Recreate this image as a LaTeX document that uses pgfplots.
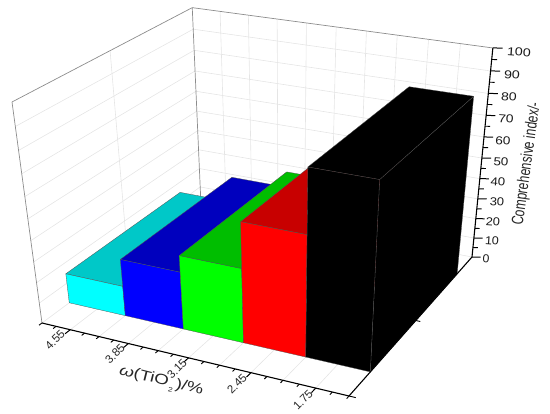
\documentclass[border=0pt]{standalone}
\usepackage{pgfplots}
\pgfplotsset{compat=1.18}
\usepackage{graphicx}
\usepackage{fontspec}
\setmainfont{Liberation Sans}
% world coordinates: o = omega(TiO2), d = depth 0..1, z = index 0..100; perspective view
\def\U{((4.9-\thisrow{o})/3.5)}
\def\V{\thisrow{d}}
\def\W{(\thisrow{z}/100)}
\def\DEN{(1-0.08667*\U+0.17218*\V-0.1095*\W)}
\pgfplotsset{/pgfplots/table/proj/.style={row sep=\\,
  x expr={(276.75*\U+193.61*\V-31.31*\W+42)/\DEN},
  y expr={(38.68*\U-82.70*\V-232.17*\W+323)/\DEN}}}
\newcommand\seg[7]{\addplot[#1,forget plot,mark=none] table[proj] {o d z\\ #2 #3 #4\\ #5 #6 #7\\};}
\newcommand\bbar[6]{%
 % omega left, omega right, value, front, top, side
 \addplot[fill=#6,draw=barline,line width=.3pt,forget plot,mark=none,line join=round] table[proj] {o d z\\ #2 .15 0\\ #2 .86 0\\ #2 .86 #3\\ #2 .15 #3\\ #2 .15 0\\};
 \addplot[fill=#5,draw=barline,line width=.3pt,forget plot,mark=none,line join=round] table[proj] {o d z\\ #1 .15 #3\\ #2 .15 #3\\ #2 .86 #3\\ #1 .86 #3\\ #1 .15 #3\\};
 \addplot[fill=#4,draw=barline,line width=.3pt,forget plot,mark=none,line join=round] table[proj] {o d z\\ #1 .15 0\\ #2 .15 0\\ #2 .15 #3\\ #1 .15 #3\\ #1 .15 0\\};
}
\definecolor{barline}{gray}{0.32}
\definecolor{gridc}{gray}{0.9}
\definecolor{framec}{gray}{0.55}
\definecolor{cyanF}{RGB}{0,255,255}
\definecolor{cyanT}{RGB}{0,200,200}
\definecolor{blueF}{RGB}{0,0,255}
\definecolor{blueT}{RGB}{0,0,190}
\definecolor{greenF}{RGB}{0,255,0}
\definecolor{greenT}{RGB}{0,190,0}
\definecolor{redF}{RGB}{255,0,0}
\definecolor{redT}{RGB}{200,0,0}
\begin{document}
\begin{tikzpicture}
\useasboundingbox (0,0) rectangle (550pt,414pt);
\begin{axis}[at={(0,0)},anchor=south west,scale only axis,width=550pt,height=414pt,
  xmin=0,xmax=550,ymin=0,ymax=414,y dir=reverse,hide axis,clip=false]
% grid on walls and floor
\pgfplotsinvokeforeach{10,20,30,40,50,60,70,80,90}{
  \seg{gridc,line width=.6pt}{4.9}{0}{#1}{4.9}{1}{#1}
  \seg{gridc,line width=.6pt}{4.9}{1}{#1}{1.4}{1}{#1}
}
\pgfplotsinvokeforeach{4.55,4.2,3.85,3.5,3.15,2.8,2.45,2.1,1.75}{
  \seg{gridc,line width=.6pt}{#1}{1}{0}{#1}{1}{100}
  \seg{gridc,line width=.6pt}{#1}{0}{0}{#1}{1}{0}
}
\seg{gridc,line width=.6pt}{4.9}{.5}{0}{4.9}{.5}{100}
\seg{gridc,line width=.6pt}{4.9}{.5}{0}{1.4}{.5}{0}
\seg{gridc,line width=.6pt}{4.9}{0}{0}{4.9}{1}{0}
\seg{gridc,line width=.6pt}{4.9}{1}{0}{1.4}{1}{0}
% frame
\seg{framec,line width=.7pt}{4.9}{0}{0}{4.9}{0}{100}
\seg{framec,line width=.7pt}{4.9}{0}{100}{4.9}{1}{100}
\seg{framec,line width=.7pt}{4.9}{1}{0}{4.9}{1}{100}
\seg{framec,line width=.7pt}{4.9}{1}{100}{1.4}{1}{100}
% bars
\bbar{4.9}{4.2}{14.7}{cyanF}{cyanT}{cyanT}
\bbar{4.2}{3.5}{27.8}{blueF}{blueT}{blueT}
\bbar{3.5}{2.8}{35.6}{greenF}{greenT}{greenT}
\bbar{2.8}{2.1}{56.7}{redF}{redT}{redT}
\bbar{2.1}{1.4}{85}{black}{black}{black}
% axes
\seg{black,line width=1.1pt}{4.9}{0}{0}{1.4}{0}{0}
\seg{black,line width=1.1pt}{1.4}{0}{0}{1.4}{1}{0}
\seg{black,line width=1.1pt}{1.4}{1}{0}{1.4}{1}{100}
\pgfplotsinvokeforeach{4.55,3.85,3.15,2.45,1.75}{
  \seg{black,line width=1pt}{#1}{0}{0}{#1}{-.028}{0}
}
\pgfplotsinvokeforeach{4.9,4.725,4.375,4.2,4.025,3.675,3.5,3.325,2.975,2.8,2.625,2.275,2.1,1.925,1.575,1.4}{
  \seg{black,line width=.9pt}{#1}{0}{0}{#1}{-.016}{0}
}
\seg{black,line width=.9pt}{1.4}{0}{0}{1.33}{0}{0}
\seg{black,line width=.9pt}{1.4}{.5}{0}{1.35}{.5}{0}
\pgfplotsinvokeforeach{0,10,20,30,40,50,60,70,80,90,100}{
  \seg{black,line width=1pt}{1.4}{1}{#1}{1.31}{1.011}{#1}
}
\pgfplotsinvokeforeach{5,15,25,35,45,55,65,75,85,95}{
  \seg{black,line width=.9pt}{1.4}{1}{#1}{1.35}{1.006}{#1}
}
% tick labels
\foreach \px/\py/\t in {55/340/4.55,115/354/3.85,177/369/3.15,237/384/2.45,303/400/1.75}{
  \edef\tmp{\noexpand\node[rotate=45,inner sep=0pt,font=\noexpand\fontsize{11.5}{12}\noexpand\selectfont,text=black!85] at (axis cs:\px,\py) {\t};}\tmp
}
\foreach \px/\py/\t/\s in {519/52/100/1.25,512/75/90/1.25,509/97/80/1.23,506/119/70/1.21,503/141/60/1.19,501/162/50/1.17,498/182/40/1.15,497/202/30/1.13,493/222/20/1.11,492/241/10/1.09,486/259/0/1.07}{
  \edef\tmp{\noexpand\node[rotate=-4,inner sep=0pt,font=\noexpand\fontsize{11.5}{12}\noexpand\selectfont,text=black!90] at (axis cs:\px,\py) {\noexpand\scalebox{\s}[1]{\t}};}\tmp
}
\node[rotate=-14,inner sep=0pt,font=\fontsize{14.5}{16}\selectfont,text=black!85] at (axis cs:161,382) {\scalebox{1.3}[1]{\textit{ω}(TiO\hspace{1pt}\raisebox{-0.7ex}{\fontsize{6.5}{7}\selectfont 2}\hspace{1pt})/\%}};
\node[rotate=82,inner sep=0pt,font=\fontsize{16.5}{18}\selectfont,text=black!85] at (axis cs:527,164) {\scalebox{0.73}[1]{Comprehensive index/-}};
\end{axis}
\end{tikzpicture}
\end{document}
